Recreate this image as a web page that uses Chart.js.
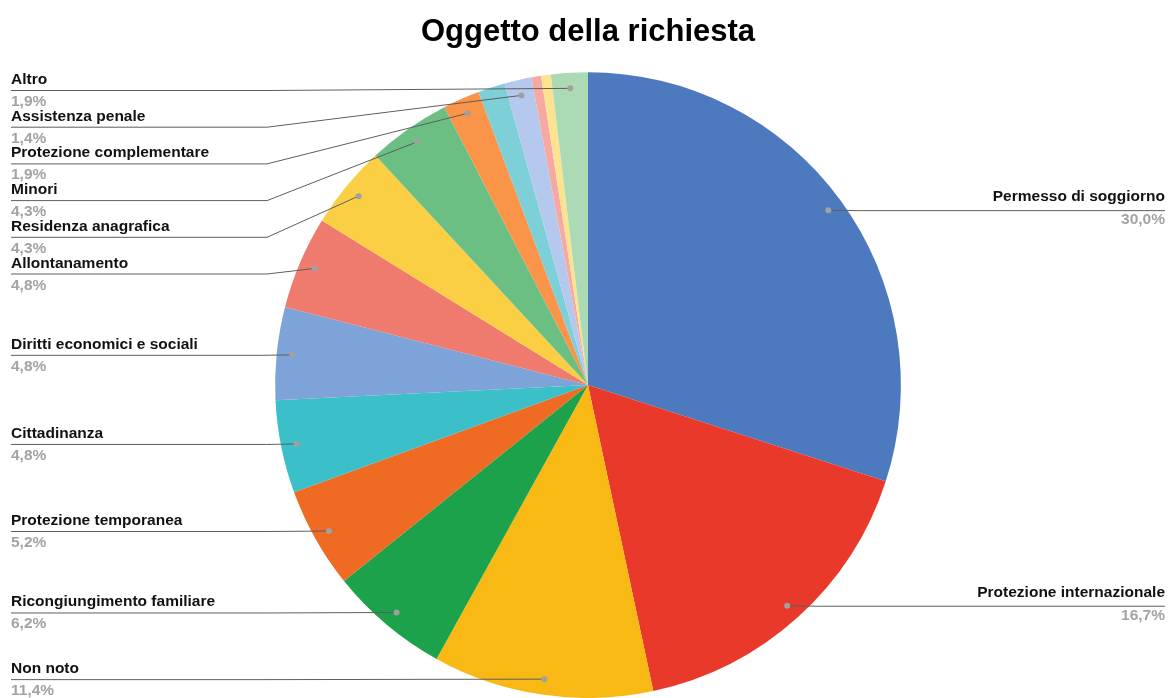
<!DOCTYPE html>
<html>
<head>
<meta charset="utf-8">
<script src="https://cdn.jsdelivr.net/npm/chart.js@4"></script>
<style>
html,body{margin:0;padding:0;background:#fff;}
#c{display:block;}
</style>
</head>
<body>
<canvas id="c" width="1168" height="698"></canvas>
<script>
const categories = [
  "Permesso di soggiorno",
  "Protezione internazionale",
  "Non noto",
  "Ricongiungimento familiare",
  "Protezione temporanea",
  "Cittadinanza",
  "Diritti economici e sociali",
  "Allontanamento",
  "Residenza anagrafica",
  "Minori",
  "Protezione complementare",
  "",
  "Assistenza penale",
  "",
  "",
  "Altro"
];
const percentValues = [30.0, 16.7, 11.4, 6.2, 5.2, 4.8, 4.8, 4.8, 4.3, 4.3, 1.9, 1.4, 1.4, 0.5, 0.5, 1.9];
const sliceColors = [
  "#4d7abf", "#e8392b", "#f9b914", "#1ca24b", "#ef6a23", "#3bbfc8",
  "#7ea3d8", "#ef7b6f", "#fbcf44", "#6cbf83", "#f99449", "#7dcfd8",
  "#b5c9ee", "#f6a9a3", "#fde28f", "#abdab5"
];
const chartTitle = "Oggetto della richiesta";

const FONT = "'Liberation Sans', Arial, sans-serif";

const labelPlugin = {
  id: 'outerLabels',
  afterDatasetsDraw(chart) {
    const ctx = chart.ctx;
    const meta = chart.getDatasetMeta(0);
    const items = [];
    meta.data.forEach((arc, i) => {
      if (!categories[i]) return;
      const mid = (arc.startAngle + arc.endAngle) / 2;
      const r = arc.outerRadius * 0.95;
      const dx = arc.x + Math.cos(mid) * r;
      const dy = arc.y + Math.sin(mid) * r;
      items.push({i, dx, dy, right: dx > arc.x});
    });
    const spacing = 36.7;
    const left = items.filter(o => !o.right).sort((a, b) => a.dy - b.dy);
    let prev = 90 - spacing;
    left.forEach(o => { o.ly = Math.max(o.dy, prev + spacing); prev = o.ly; });
    const right = items.filter(o => o.right).sort((a, b) => a.dy - b.dy);
    prev = -1e9;
    right.forEach(o => { o.ly = Math.max(o.dy, prev + spacing); prev = o.ly; });

    ctx.save();
    const pct = v => v.toFixed(1).replace('.', ',') + '%';
    left.forEach(o => {
      const elbowX = Math.min(267, o.dx - 30);
      ctx.strokeStyle = '#5e5e5e';
      ctx.lineWidth = 1;
      ctx.beginPath();
      ctx.moveTo(11, o.ly + 0.5);
      ctx.lineTo(elbowX, o.ly + 0.5);
      ctx.lineTo(o.dx, o.dy);
      ctx.stroke();
      ctx.fillStyle = '#a0a0a0';
      ctx.beginPath();
      ctx.arc(o.dx, o.dy, 3, 0, Math.PI * 2);
      ctx.fill();
      ctx.textAlign = 'left';
      ctx.textBaseline = 'alphabetic';
      ctx.font = 'bold 15.5px ' + FONT;
      ctx.fillStyle = '#111';
      ctx.fillText(categories[o.i], 11, o.ly - 6);
      ctx.fillStyle = '#a3a3a3';
      ctx.fillText(pct(percentValues[o.i]), 11, o.ly + 16);
    });
    right.forEach(o => {
      ctx.strokeStyle = '#5e5e5e';
      ctx.lineWidth = 1;
      ctx.beginPath();
      ctx.moveTo(o.dx, o.dy);
      ctx.lineTo(o.dx + 30, o.ly + 0.5);
      ctx.lineTo(1165, o.ly + 0.5);
      ctx.stroke();
      ctx.fillStyle = '#a0a0a0';
      ctx.beginPath();
      ctx.arc(o.dx, o.dy, 3, 0, Math.PI * 2);
      ctx.fill();
      ctx.textAlign = 'right';
      ctx.textBaseline = 'alphabetic';
      ctx.font = 'bold 15.5px ' + FONT;
      ctx.fillStyle = '#111';
      ctx.fillText(categories[o.i], 1165, o.ly - 9);
      ctx.fillStyle = '#a3a3a3';
      ctx.fillText(pct(percentValues[o.i]), 1165, o.ly + 14);
    });
    ctx.restore();
  }
};

new Chart(document.getElementById('c'), {
  type: 'pie',
  data: {
    labels: categories,
    datasets: [{
      data: percentValues,
      backgroundColor: sliceColors,
      borderWidth: 0
    }]
  },
  options: {
    responsive: false,
    animation: false,
    devicePixelRatio: 1,
    layout: { padding: { left: 8, right: 0, top: 0, bottom: 0 } },
    plugins: {
      legend: { display: false },
      tooltip: { enabled: false },
      title: {
        display: true,
        text: chartTitle,
        color: '#000',
        font: { family: FONT, size: 31, weight: 'bold', lineHeight: 1.2 },
        padding: { top: 14, bottom: 21 }
      }
    }
  },
  plugins: [labelPlugin]
});
</script>
</body>
</html>
